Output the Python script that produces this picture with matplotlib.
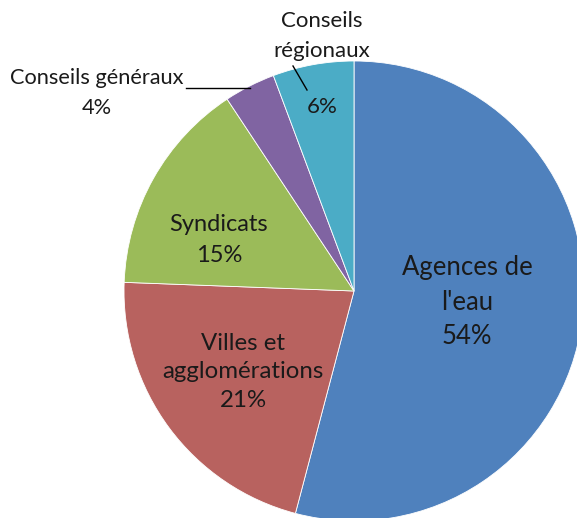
import matplotlib
matplotlib.use("Agg")
import matplotlib.pyplot as plt
import numpy as np

categories = ["Agences de l'eau", "Villes et agglomérations", "Syndicats",
              "Conseils généraux", "Conseils régionaux"]
values = [54.1, 21.5, 15.1, 3.6, 5.7]
pct_labels = ["54%", "21%", "15%", "4%", "6%"]
colors = ["#4F81BD", "#B8625F", "#9BBB59", "#8064A2", "#4BACC6"]

W, H = 577, 518
cx, cy, R = 354, 291, 230  # pixel layout of pie

fig = plt.figure(figsize=(W / 100, H / 100), dpi=100)
ax = fig.add_axes([0, 0, 1, 1])
ax.pie(values, colors=colors, startangle=90, counterclock=False, radius=1,
       wedgeprops=dict(edgecolor="white", linewidth=0.6))
ax.set_xlim(-cx / R, (W - cx) / R)
ax.set_ylim(-(H - cy) / R, cy / R)
ax.set_aspect("equal", adjustable="box")
ax.axis("off")

def P(px, py):
    return ((px - cx) / R, (cy - py) / R)

font = "Lato"
tc = "#1a1a1a"

# Agences de l'eau
ax.text(*P(467, 302), "Agences de\nl'eau\n" + pct_labels[0], ha="center", va="center",
        fontsize=18.5, family=font, color=tc, linespacing=1.48)
# Villes et agglomérations
ax.text(*P(243, 372), "Villes et\nagglomérations\n" + pct_labels[1], ha="center", va="center",
        fontsize=17.3, family=font, color=tc, linespacing=1.45)
# Syndicats
ax.text(*P(219, 240), "Syndicats\n" + pct_labels[2], ha="center", va="center",
        fontsize=17, family=font, color=tc, linespacing=1.55)
# Conseils généraux (outside, with leader line)
ax.text(*P(97, 93), "Conseils généraux\n" + pct_labels[3], ha="center", va="center",
        fontsize=15.7, family=font, color=tc, linespacing=1.6)
x0, y0 = P(186, 88)
x1, y1 = P(250, 88)
ax.plot([x0, x1], [y0, y1], color="black", lw=1)
# Conseils régionaux
ax.text(*P(322, 36), "Conseils\nrégionaux", ha="center", va="center",
        fontsize=16, family=font, color=tc, linespacing=1.6)
ax.text(*P(322, 107), pct_labels[4], ha="center", va="center",
        fontsize=16, family=font, color=tc)
x0, y0 = P(293, 66)
x1, y1 = P(307, 90)
ax.plot([x0, x1], [y0, y1], color="black", lw=1)

fig.savefig("out.png", dpi=100)
